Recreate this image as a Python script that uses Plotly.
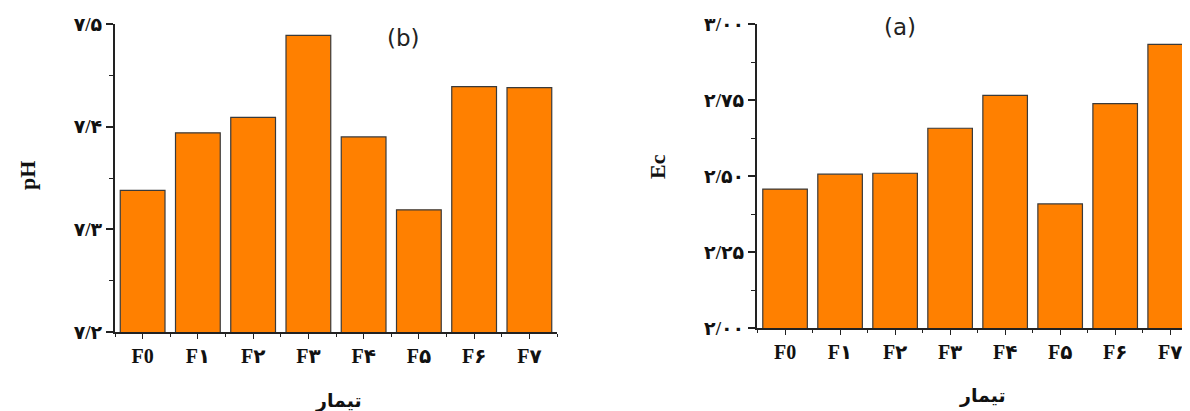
import plotly.graph_objects as go

categories = ["F0", "F۱", "F۲", "F۳", "F۴", "F۵", "F۶", "F۷"]
ph_values = [7.338, 7.394, 7.409, 7.489, 7.390, 7.319, 7.439, 7.438]
ec_values = [2.457, 2.506, 2.509, 2.657, 2.765, 2.408, 2.738, 2.933]

ph_tickvals = [7.2, 7.3, 7.4, 7.5]
ph_ticktext = ["۷/۲", "۷/۳", "۷/۴", "۷/۵"]
ec_tickvals = [2.0, 2.25, 2.5, 2.75, 3.0]
ec_ticktext = ["۲/۰۰", "۲/۲۵", "۲/۵۰", "۲/۷۵", "۳/۰۰"]

x_idx = list(range(len(categories)))
BAR = "#FF8000"
EDGE = "#3a3a3a"
SERIF = "Liberation Serif, DejaVu Serif, DejaVu Sans"

# page has an 8px body margin; work in page pixels and convert
OFF = 8
W, H = 1190 - OFF, 411 - OFF


def px(x):
    return (x - OFF) / W


def py(y):
    return 1 - (y - OFF) / H


fig = go.Figure()
fig.add_trace(go.Bar(x=x_idx, y=ph_values, width=0.81, marker=dict(color=BAR, line=dict(color=EDGE, width=1.2)),
                     xaxis="x", yaxis="y", showlegend=False))
fig.add_trace(go.Bar(x=x_idx, y=ec_values, width=0.81, marker=dict(color=BAR, line=dict(color=EDGE, width=1.2)),
                     xaxis="x2", yaxis="y2", showlegend=False))

xcommon = dict(tickmode="array", tickvals=x_idx, ticktext=categories,
               showline=True, linecolor="#222", linewidth=1.5, ticks="outside", ticklen=5,
               tickcolor="#222", tickwidth=1.2, showgrid=False, zeroline=False,
               tickfont=dict(family=SERIF, size=20, color="#111", weight="bold"),
               minor=dict(tick0=0.5, dtick=1, ticks="outside", ticklen=3, tickcolor="#222", tickwidth=1),
               automargin=False, fixedrange=True)
ycommon = dict(showline=True, linecolor="#222", linewidth=2, ticks="outside", ticklen=7,
               tickcolor="#222", tickwidth=1.5, showgrid=False, zeroline=False,
               tickfont=dict(family=SERIF, size=19, color="#111", weight="bold"),
               automargin=False, fixedrange=True, tickmode="array")


def note(text, x, y, size, family, angle=0, color="#111", bold=True):
    return dict(text=text, x=px(x), y=py(y), xref="paper", yref="paper", showarrow=False,
                xanchor="center", yanchor="middle", textangle=angle,
                font=dict(family=family, size=size, color=color, weight="bold" if bold else "normal"))


fig.update_layout(
    width=W, height=H,
    margin=dict(l=0, r=0, t=0, b=0),
    paper_bgcolor="white", plot_bgcolor="white",
    xaxis=dict(domain=[px(115), px(557)], anchor="y", range=[-0.5, 7.5], **xcommon),
    yaxis=dict(domain=[py(332), py(24)], anchor="x", range=[7.2, 7.5],
               tickvals=ph_tickvals, ticktext=ph_ticktext,
               minor=dict(tick0=7.2, dtick=0.05, ticks="outside", ticklen=4, tickcolor="#222", tickwidth=1.2),
               **ycommon),
    xaxis2=dict(domain=[px(757), 1.0], anchor="y2", range=[-0.51, 7.36], **xcommon),
    yaxis2=dict(domain=[py(328), py(24)], anchor="x2", range=[2.0, 3.0],
                tickvals=ec_tickvals, ticktext=ec_ticktext,
                minor=dict(tick0=2.0, dtick=0.125, ticks="outside", ticklen=4, tickcolor="#222", tickwidth=1.2),
                **ycommon),
    annotations=[
        note("pH", 27, 175, 22, SERIF, angle=-90),
        note("Ec", 657, 167, 22, SERIF, angle=-90),
        note("تیمار", 338, 400, 19, "DejaVu Sans, Noto Sans"),
        note("تیمار", 982, 395, 19, "DejaVu Sans, Noto Sans"),
        note("(b)", 403, 38, 23, "DejaVu Sans, Liberation Sans", color="#222", bold=False),
        note("(a)", 900, 27, 23, "DejaVu Sans, Liberation Sans", color="#222", bold=False),
    ],
)

fig.write_html("out.html")
